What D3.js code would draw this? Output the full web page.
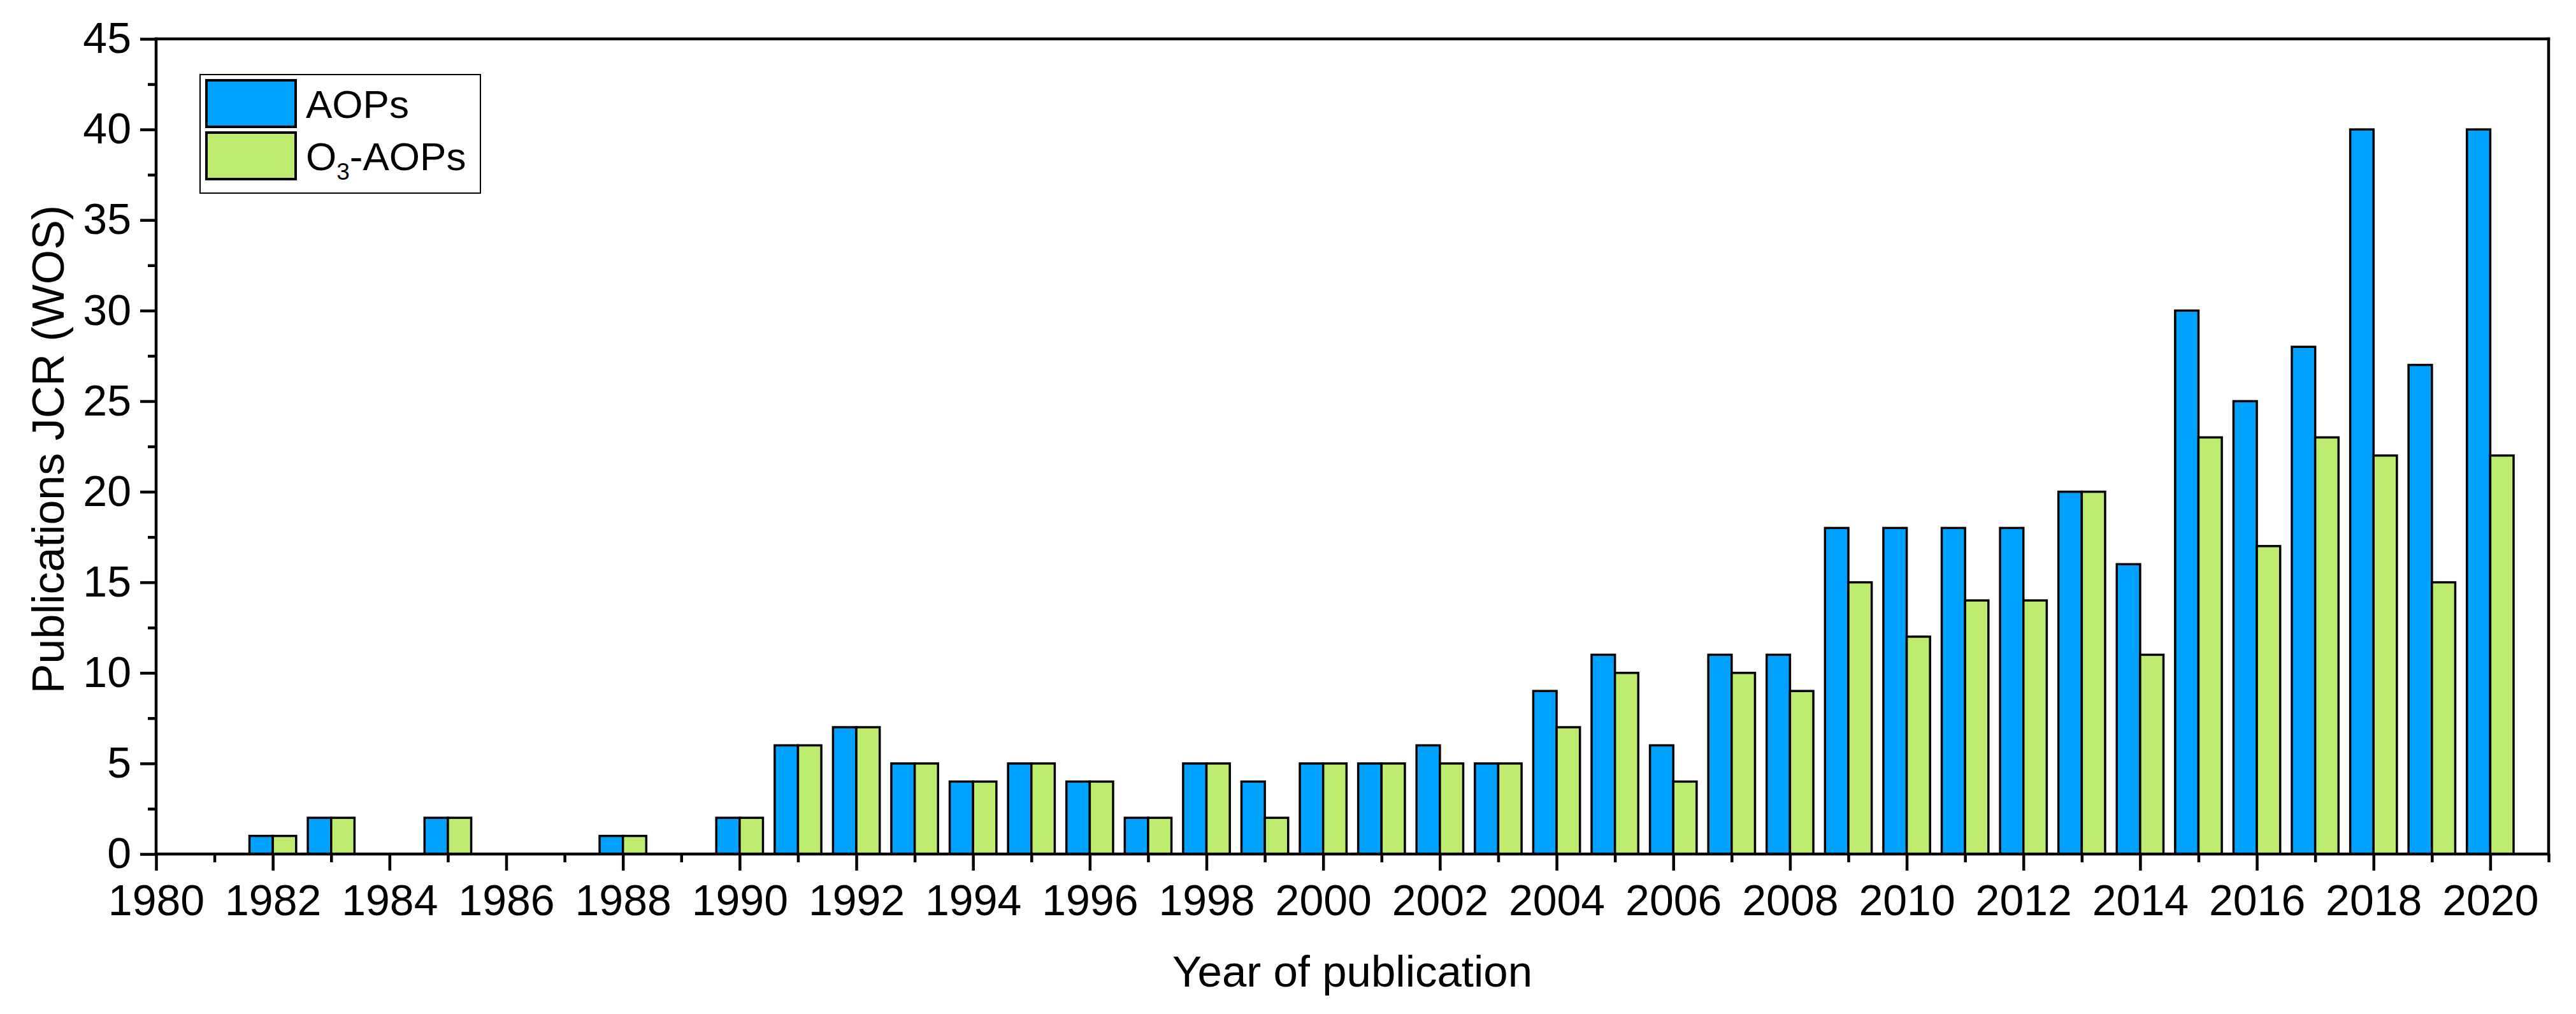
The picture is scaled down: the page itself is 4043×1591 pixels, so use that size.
<!DOCTYPE html>
<html>
<head>
<meta charset="utf-8">
<script src="https://cdn.jsdelivr.net/npm/d3@7"></script>
<style>
  html, body { margin: 0; padding: 0; background: #fff; }
  svg { display: block; }
  text { font-family: "Liberation Sans", Arial, sans-serif; fill: #000; }
</style>
</head>
<body>
<svg id="chart" width="4043" height="1591"></svg>
<script>
// ---- data ----
const years = [1982, 1983, 1985, 1988, 1990, 1991, 1992, 1993, 1994, 1995, 1996, 1997, 1998, 1999,
               2000, 2001, 2002, 2003, 2004, 2005, 2006, 2007, 2008, 2009, 2010, 2011, 2012, 2013,
               2014, 2015, 2016, 2017, 2018, 2019, 2020];
const aops   = [1, 2, 2, 1, 2, 6, 7, 5, 4, 5, 4, 2, 5, 4,
                5, 5, 6, 5, 9, 11, 6, 11, 11, 18, 18, 18, 18, 20,
                16, 30, 25, 28, 40, 27, 40];
const o3aops = [1, 2, 2, 1, 2, 6, 7, 5, 4, 5, 4, 2, 5, 2,
                5, 5, 5, 5, 7, 10, 4, 10, 9, 15, 12, 14, 14, 20,
                11, 23, 17, 23, 22, 15, 22];
const seriesNames = ["AOPs", "O3-AOPs"];
const seriesColors = ["#00A2FF", "#BEEC6E"];
const xMajorTicks = d3.range(1980, 2021, 2);
const xMinorTicks = d3.range(1981, 2022, 2);
const yMajorTicks = d3.range(0, 46, 5);
const yMinorTicks = d3.range(2.5, 45, 5);

// ---- layout ----
const svg = d3.select("#chart");
const L = 245, R = 4000, T = 61, B = 1340;
const x = d3.scaleLinear().domain([1980, 2021]).range([L, R]);
const y = d3.scaleLinear().domain([0, 45]).range([B, T]);
const step = x(1981) - x(1980);
const bw = step * 0.4;

const FS = 68;

// bars
const gBars = svg.append("g");
const rows = years.map((yr, i) => ({ yr, a: aops[i], o: o3aops[i] }));
gBars.selectAll("rect.a").data(rows).join("rect")
  .attr("x", d => x(d.yr) - bw).attr("width", bw)
  .attr("y", d => y(d.a)).attr("height", d => y(0) - y(d.a))
  .attr("fill", seriesColors[0]).attr("stroke", "#000").attr("stroke-width", 3.5);
gBars.selectAll("rect.o").data(rows).join("rect")
  .attr("x", d => x(d.yr)).attr("width", bw)
  .attr("y", d => y(d.o)).attr("height", d => y(0) - y(d.o))
  .attr("fill", seriesColors[1]).attr("stroke", "#000").attr("stroke-width", 3.5);

// axes
function styleAxis(g) {
  g.select(".domain").remove();
  g.selectAll(".tick line").attr("stroke", "#000").attr("stroke-width", 4.5);
  g.selectAll(".tick text").style("font-size", FS + "px").style("font-family", "'Liberation Sans', Arial, sans-serif").attr("fill", "#000");
}
svg.append("g").attr("transform", `translate(0,${B})`)
  .call(d3.axisBottom(x).tickValues(xMajorTicks).tickFormat(d3.format("d")).tickSize(26).tickPadding(22))
  .call(styleAxis);
svg.append("g").attr("transform", `translate(0,${B})`)
  .call(d3.axisBottom(x).tickValues(xMinorTicks).tickFormat("").tickSize(13))
  .call(styleAxis);
svg.append("g").attr("transform", `translate(${L},0)`)
  .call(d3.axisLeft(y).tickValues(yMajorTicks).tickFormat(d3.format("d")).tickSize(25).tickPadding(14))
  .call(styleAxis);
svg.append("g").attr("transform", `translate(${L},0)`)
  .call(d3.axisLeft(y).tickValues(yMinorTicks).tickFormat("").tickSize(13))
  .call(styleAxis);

// frame
const frame = svg.append("g").attr("stroke", "#000").attr("stroke-width", 4.5).attr("stroke-linecap", "square");
frame.append("line").attr("x1", L).attr("x2", R).attr("y1", T).attr("y2", T);
frame.append("line").attr("x1", L).attr("x2", R).attr("y1", B).attr("y2", B);
frame.append("line").attr("x1", L).attr("x2", L).attr("y1", T).attr("y2", B);
frame.append("line").attr("x1", R).attr("x2", R).attr("y1", T).attr("y2", B);

// axis titles
svg.append("text").attr("x", (L + R) / 2).attr("y", 1548)
  .attr("text-anchor", "middle").style("font-size", "69px").text("Year of publication");
svg.append("text").attr("transform", `translate(100,705) rotate(-90)`)
  .attr("text-anchor", "middle").style("font-size", "70px").text("Publications JCR (WOS)");

// legend
const lg = svg.append("g");
lg.append("rect").attr("x", 314).attr("y", 117).attr("width", 440).attr("height", 186)
  .attr("fill", "#fff").attr("stroke", "#000").attr("stroke-width", 2);
const swY = [126, 208];
seriesNames.forEach((n, i) => {
  lg.append("rect").attr("x", 324).attr("y", swY[i]).attr("width", 140).attr("height", 73)
    .attr("fill", seriesColors[i]).attr("stroke", "#000").attr("stroke-width", 4);
});
lg.append("text").attr("x", 480).attr("y", 185).style("font-size", "62px").text("AOPs");
const t2 = lg.append("text").attr("x", 480).attr("y", 267).style("font-size", "62px");
t2.append("tspan").text("O");
t2.append("tspan").attr("dy", 15).style("font-size", "37px").text("3");
t2.append("tspan").attr("dy", -15).text("-AOPs");
</script>
</body>
</html>
